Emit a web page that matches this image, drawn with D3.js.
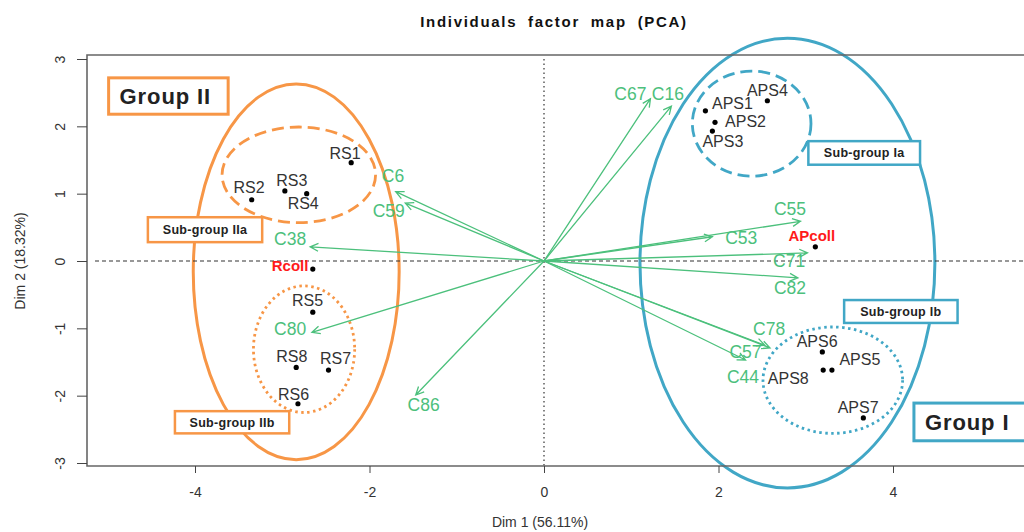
<!DOCTYPE html>
<html>
<head>
<meta charset="utf-8">
<script src="https://cdn.jsdelivr.net/npm/d3@7"></script>
<style>
  body { margin: 0; background: #fff; }
  svg { display: block; font-family: "Liberation Sans", Arial, sans-serif; }
  .narrow { font-family: "Liberation Sans Narrow", "Liberation Sans", Arial, sans-serif; font-stretch: condensed; }
</style>
</head>
<body>
<div id="chart"></div>
<script>
const width = 1024;
const height = 532;

// individuals (Dim 1, Dim 2) and where their labels sit (data units)
const indNames  = ["RS1", "RS2", "RS3", "RS4", "Rcoll", "RS5", "RS8", "RS7", "RS6",
                   "APS4", "APS1", "APS2", "APS3", "APcoll", "APS6", "APS8", "APS5", "APS7"];
const indX      = [-2.21, -3.35, -2.97, -2.72, -2.65, -2.65, -2.84, -2.47, -2.82,
                   2.56, 1.85, 1.96, 1.93, 3.11, 3.19, 3.20, 3.30, 3.66];
const indY      = [1.46, 0.91, 1.04, 1.00, -0.12, -0.76, -1.58, -1.62, -2.12,
                   2.38, 2.23, 2.06, 1.93, 0.21, -1.35, -1.62, -1.62, -2.33];
const indLabelX = [-2.28, -3.38, -2.89, -2.76, -2.91, -2.71, -2.89, -2.39, -2.87,
                   2.56, 2.16, 2.31, 2.05, 3.07, 3.13, 2.80, 3.62, 3.60];
const indLabelY = [1.60, 1.10, 1.20, 0.86, -0.07, -0.59, -1.41, -1.44, -1.98,
                   2.53, 2.35, 2.08, 1.78, 0.37, -1.19, -1.74, -1.46, -2.17];
const supplementary = ["Rcoll", "APcoll"];

// variables (arrows from origin)
const varNames  = ["C67", "C16", "C6", "C59", "C38", "C80", "C86",
                   "C55", "C53", "C71", "C82", "C78", "C57", "C44"];
const varX      = [1.22, 1.46, -1.70, -1.59, -2.68, -2.66, -1.47,
                   2.94, 1.93, 3.02, 2.91, 2.59, 2.53, 2.31];
const varY      = [2.41, 2.30, 1.03, 0.86, 0.21, -1.06, -1.99,
                   0.59, 0.36, 0.12, -0.25, -1.29, -1.25, -1.47];
const varLabelX = [0.99, 1.42, -1.73, -1.78, -2.91, -2.91, -1.38,
                   2.82, 2.26, 2.81, 2.82, 2.58, 2.31, 2.28];
const varLabelY = [2.49, 2.49, 1.26, 0.74, 0.33, -1.00, -2.14,
                   0.77, 0.34, 0.00, -0.39, -1.01, -1.35, -1.72];

// group ellipses (data units)
const ellNames = ["Group II", "Sub-group IIa", "Sub-group IIb", "Group I", "Sub-group Ia", "Sub-group Ib"];
const ellCx    = [-2.84, -2.81, -2.75, 2.79, 2.38, 3.31];
const ellCy    = [-0.16, 1.28, -1.31, -0.03, 2.04, -1.77];
const ellRx    = [1.18, 0.88, 0.58, 1.69, 0.68, 0.80];
const ellRy    = [2.79, 0.71, 0.94, 3.34, 0.78, 0.79];

// group label boxes (data units: x0, x1, y0, y1)
const boxX0 = [-4.99, -4.54, -4.23, 4.24, 3.03, 3.44];
const boxX1 = [-3.62, -3.23, -2.92, 5.75, 4.31, 4.74];
const boxY0 = [2.72, 0.65, -2.23, -2.11, 1.78, -0.58];
const boxY1 = [2.18, 0.28, -2.56, -2.67, 1.43, -0.92];

const xTicks = [-4, -2, 0, 2, 4];
const yTicks = [-3, -2, -1, 0, 1, 2, 3];

const orange = "#F79646";
const blue = "#41A7C6";
const green = "#4CC07C";

function groupColor(name) { return name.endsWith("II") || name.endsWith("IIa") || name.endsWith("IIb") ? orange : blue; }
function groupDash(name) {
  if (name.startsWith("Group")) return null;
  return name.endsWith("a") ? "12,6" : "2.5,3.5";
}

const x = d3.scaleLinear().domain([-4, 4]).range([195, 893]);
const y = d3.scaleLinear().domain([-3, 3]).range([463, 59]);

const plot = {left: 87, top: 55, right: 1030, bottom: 466};

const svg = d3.select("#chart").append("svg")
  .attr("width", width)
  .attr("height", height);

// title
svg.append("text")
  .attr("x", 554).attr("y", 27)
  .attr("text-anchor", "middle")
  .attr("font-weight", "bold")
  .attr("font-size", 15)
  .attr("letter-spacing", 1.7)
  .attr("word-spacing", 5)
  .attr("fill", "#111")
  .text("Individuals factor map (PCA)");

// ellipses
svg.append("g")
  .selectAll("ellipse")
  .data(ellNames)
  .join("ellipse")
    .attr("cx", (d, i) => x(ellCx[i]))
    .attr("cy", (d, i) => y(ellCy[i]))
    .attr("rx", (d, i) => x(ellCx[i] + ellRx[i]) - x(ellCx[i]))
    .attr("ry", (d, i) => y(ellCy[i]) - y(ellCy[i] + ellRy[i]))
    .attr("fill", "none")
    .attr("stroke", d => groupColor(d))
    .attr("stroke-width", d => d.startsWith("Group") ? 3 : 2.8)
    .attr("stroke-dasharray", d => groupDash(d));

// reference lines
svg.append("line")
  .attr("x1", plot.left + 8).attr("x2", plot.right)
  .attr("y1", y(0)).attr("y2", y(0))
  .attr("stroke", "#333").attr("stroke-width", 1.2)
  .attr("stroke-dasharray", "4,3");
svg.append("line")
  .attr("x1", x(0)).attr("x2", x(0))
  .attr("y1", plot.top + 4).attr("y2", plot.bottom)
  .attr("stroke", "#333").attr("stroke-width", 1.2)
  .attr("stroke-dasharray", "1.5,3");

// frame (right side falls outside the picture)
svg.append("path")
  .attr("d", `M${plot.right},${plot.top}H${plot.left}V${plot.bottom}H${plot.right}`)
  .attr("fill", "none")
  .attr("stroke", "#666")
  .attr("stroke-width", 1.6);

// axes (plain hyphen minus, like R)
const fmt = d => String(d);

const xAxis = g => g
  .attr("transform", `translate(0,${plot.bottom})`)
  .call(d3.axisBottom(x).tickValues(xTicks).tickSize(7).tickPadding(14).tickFormat(fmt))
  .call(g => g.select(".domain").remove())
  .call(g => g.selectAll("line").attr("stroke", "#444"))
  .call(g => g.selectAll("text").attr("class", "narrow").attr("font-size", 14).attr("fill", "#333"));

const yAxis = g => g
  .attr("transform", `translate(${plot.left},0)`)
  .call(d3.axisLeft(y).tickValues(yTicks).tickSize(10).tickFormat(fmt))
  .call(g => g.select(".domain").remove())
  .call(g => g.selectAll("line").attr("stroke", "#444"))
  .call(g => g.selectAll("text")
      .attr("class", "narrow")
      .attr("font-size", 14).attr("fill", "#333")
      .attr("x", null).attr("dy", null)
      .attr("text-anchor", "middle")
      .attr("transform", "translate(-22,0) rotate(-90)")
      .attr("y", 0));

svg.append("g").call(xAxis);
svg.append("g").call(yAxis);

svg.append("text")
  .attr("class", "narrow")
  .attr("x", 540).attr("y", 527)
  .attr("text-anchor", "middle")
  .attr("font-size", 14)
  .attr("fill", "#333")
  .text("Dim 1 (56.11%)");

svg.append("text")
  .attr("class", "narrow")
  .attr("transform", `translate(25,${y(0)}) rotate(-90)`)
  .attr("text-anchor", "middle")
  .attr("font-size", 14)
  .attr("fill", "#333")
  .text("Dim 2 (18.32%)");

// variable arrows
const arrows = svg.append("g")
  .attr("stroke", green)
  .attr("stroke-width", 1.3)
  .attr("fill", "none");

varNames.forEach((name, i) => {
  const x0 = x(0), y0 = y(0), x1 = x(varX[i]), y1 = y(varY[i]);
  const a = Math.atan2(y1 - y0, x1 - x0);
  const len = 9, spread = Math.PI / 7;
  arrows.append("path")
    .attr("d", `M${x0},${y0}L${x1},${y1}` +
      `M${x1 - len * Math.cos(a - spread)},${y1 - len * Math.sin(a - spread)}L${x1},${y1}` +
      `L${x1 - len * Math.cos(a + spread)},${y1 - len * Math.sin(a + spread)}`);
});

svg.append("g")
  .selectAll("text")
  .data(varNames)
  .join("text")
    .attr("x", (d, i) => x(varLabelX[i]))
    .attr("y", (d, i) => y(varLabelY[i]))
    .attr("dy", "0.36em")
    .attr("text-anchor", "middle")
    .attr("font-size", 17.5)
    .attr("fill", green)
    .text(d => d);

// individuals
svg.append("g")
  .selectAll("circle")
  .data(indNames)
  .join("circle")
    .attr("cx", (d, i) => x(indX[i]))
    .attr("cy", (d, i) => y(indY[i]))
    .attr("r", 2.6)
    .attr("fill", "#000");

svg.append("g")
  .selectAll("text")
  .data(indNames)
  .join("text")
    .attr("x", (d, i) => x(indLabelX[i]))
    .attr("y", (d, i) => y(indLabelY[i]))
    .attr("dy", "0.36em")
    .attr("text-anchor", "middle")
    .attr("font-size", d => supplementary.includes(d) ? 15 : 16)
    .attr("font-weight", d => supplementary.includes(d) ? "bold" : "normal")
    .attr("fill", d => supplementary.includes(d) ? "#FF1A1A" : "#333")
    .text(d => d);

// group label boxes
const boxes = svg.append("g")
  .selectAll("g")
  .data(ellNames)
  .join("g");

boxes.append("rect")
  .attr("x", (d, i) => x(boxX0[i]))
  .attr("y", (d, i) => y(boxY0[i]))
  .attr("width", (d, i) => x(boxX1[i]) - x(boxX0[i]))
  .attr("height", (d, i) => y(boxY1[i]) - y(boxY0[i]))
  .attr("fill", "#fff")
  .attr("stroke", d => groupColor(d))
  .attr("stroke-width", d => d.startsWith("Group") ? 3 : 2.5);

boxes.append("text")
  .attr("x", (d, i) => d.startsWith("Group") ? x(boxX0[i]) + 11 : (x(boxX0[i]) + x(boxX1[i])) / 2)
  .attr("y", (d, i) => (y(boxY0[i]) + y(boxY1[i])) / 2)
  .attr("dy", "0.36em")
  .attr("text-anchor", d => d.startsWith("Group") ? "start" : "middle")
  .attr("font-weight", "bold")
  .attr("font-size", d => d.startsWith("Group") ? 22 : 12.5)
  .attr("letter-spacing", d => d.startsWith("Group") ? 0.9 : 0.3)
  .attr("fill", "#222")
  .text(d => d);
</script>
</body>
</html>
